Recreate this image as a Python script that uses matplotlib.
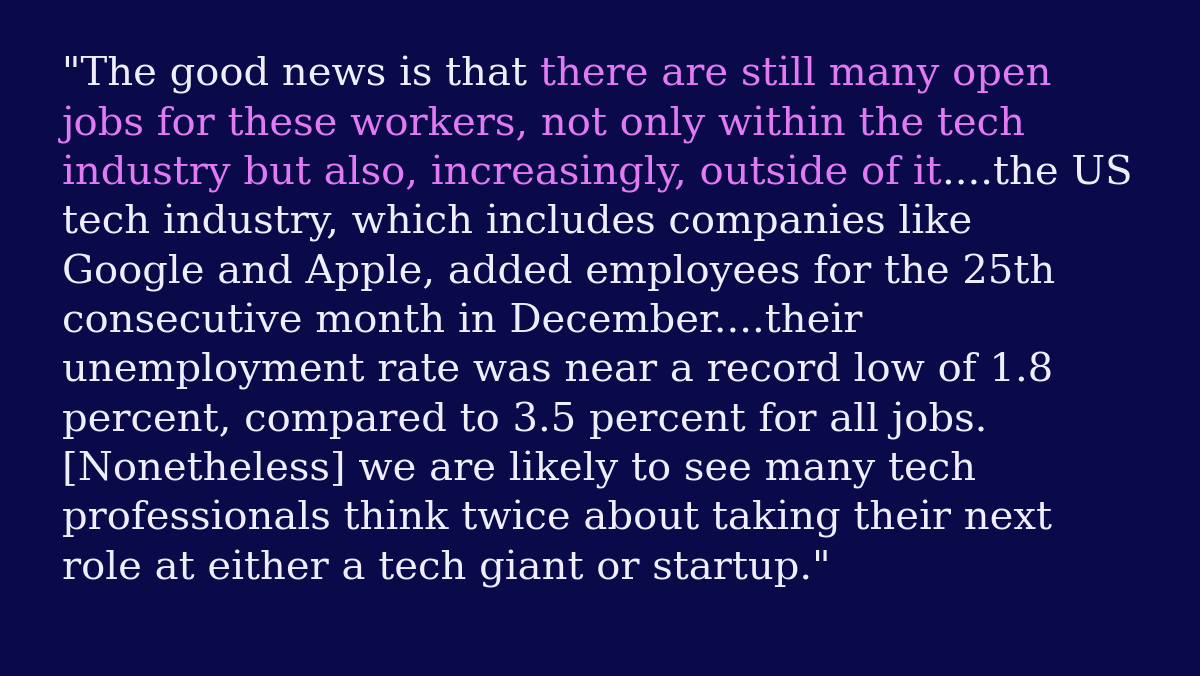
import matplotlib
matplotlib.use("Agg")
import matplotlib.pyplot as plt

# quote text, one entry per rendered line; each segment is (text, highlighted)
LINES = [
    [('"The good news is that ', False), ("there are still many open", True)],
    [("jobs for these workers, not only within the tech", True)],
    [("industry but also, increasingly, outside of it", True), ("....the US", False)],
    [("tech industry, which includes companies like", False)],
    [("Google and Apple, added employees for the 25th", False)],
    [("consecutive month in December....their", False)],
    [("unemployment rate was near a record low of 1.8", False)],
    [("percent, compared to 3.5 percent for all jobs.", False)],
    [("[Nonetheless] we are likely to see many tech", False)],
    [("professionals think twice about taking their next", False)],
    [('role at either a tech giant or startup."', False)],
]

W, H = 1200, 676
BG = "#0a0a4b"
TEXT_COLOR = "#eeeefc"
HIGHLIGHT = "#e27af2"
FONT = "DejaVu Serif"

LEFT = 62
FIRST_BASELINE = 86
LINE_STEP = 49.3
TARGET_WIDTH = 990  # pixel width of the first line


def text_width(fig, renderer, s, size):
    stripped = s.rstrip(" ")
    n_trail = len(s) - len(stripped)
    t = fig.text(0, 0, stripped, fontsize=size, family=FONT)
    w = t.get_window_extent(renderer).width
    t.remove()
    if n_trail:
        a = fig.text(0, 0, "a a", fontsize=size, family=FONT)
        b = fig.text(0, 0, "aa", fontsize=size, family=FONT)
        space = a.get_window_extent(renderer).width - b.get_window_extent(renderer).width
        a.remove()
        b.remove()
        w += n_trail * space
    return w


def main() -> None:
    fig = plt.figure(figsize=(W / 100, H / 100), dpi=100)
    fig.patch.set_facecolor(BG)
    renderer = fig.canvas.get_renderer()

    # pick a size so the first line spans the same width as the reference
    probe = 30
    first = "".join(seg for seg, _ in LINES[0])
    size = probe * TARGET_WIDTH / text_width(fig, renderer, first, probe)

    for i, line in enumerate(LINES):
        y = 1 - (FIRST_BASELINE + i * LINE_STEP) / H
        x_px = LEFT
        for seg, hl in line:
            fig.text(x_px / W, y, seg.rstrip(" "), fontsize=size, family=FONT,
                     color=HIGHLIGHT if hl else TEXT_COLOR, va="baseline", ha="left")
            x_px += text_width(fig, renderer, seg, size)

    fig.savefig("out.png", dpi=100, facecolor=BG)
    plt.close(fig)


if __name__ == "__main__":
    main()
